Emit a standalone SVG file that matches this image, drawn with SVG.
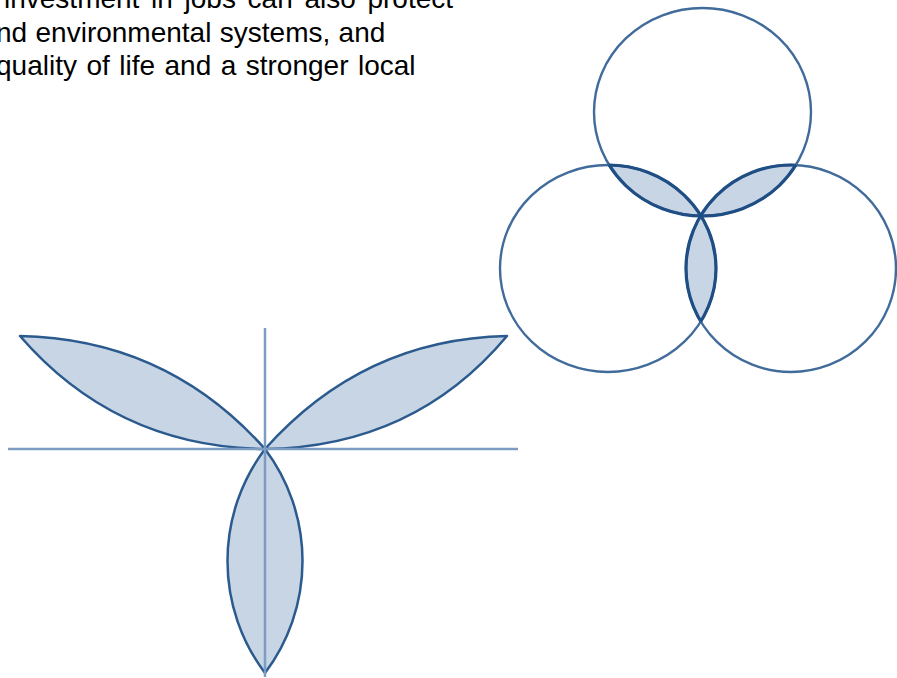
<svg xmlns="http://www.w3.org/2000/svg" width="897" height="678" viewBox="0 0 897 678">
  <style>
    .txt { font-family: "Liberation Sans", Arial, sans-serif; font-size: 28px; fill: #000; }
    .ring { fill: none; stroke: #416b9b; stroke-width: 2.4; }
    .lensfill { fill: #c8d5e4; stroke: none; }
    .lensedge { fill: none; stroke: #1f4e85; stroke-width: 3.2; }
    .petal { fill: #c8d5e4; stroke: #2b5a8e; stroke-width: 2.5; stroke-linejoin: round; }
    .axis { stroke: #7c9cc1; stroke-width: 2.5; fill: none; }
  </style>
  <defs>
    <ellipse id="eTop" cx="702.5" cy="112" rx="108.5" ry="104"/>
    <ellipse id="eLeft" cx="608" cy="268.5" rx="108" ry="103.5"/>
    <ellipse id="eRight" cx="791" cy="268.5" rx="105" ry="103.5"/>
    <clipPath id="cTop"><use href="#eTop"/></clipPath>
    <clipPath id="cLeft"><use href="#eLeft"/></clipPath>
    <clipPath id="cRight"><use href="#eRight"/></clipPath>
  </defs>

  <g id="text" class="txt">
    <text x="4" y="8" word-spacing="3.9">investment in jobs can also protect</text>
    <text x="-4" y="42" word-spacing="0.6">nd environmental systems, and</text>
    <text x="-4" y="75" word-spacing="1.7">quality of life and a stronger local</text>
  </g>

  <g id="venn">
    <g id="lens-top-left" clip-path="url(#cLeft)"><use href="#eTop" class="lensfill"/></g>
    <g id="lens-top-right" clip-path="url(#cRight)"><use href="#eTop" class="lensfill"/></g>
    <g id="lens-bottom" clip-path="url(#cRight)"><use href="#eLeft" class="lensfill"/></g>
    <g id="circle-top"><use href="#eTop" class="ring"/></g>
    <g id="circle-left"><use href="#eLeft" class="ring"/></g>
    <g id="circle-right"><use href="#eRight" class="ring"/></g>
    <g id="lens-edges">
      <g clip-path="url(#cLeft)"><use href="#eTop" class="lensedge"/></g>
      <g clip-path="url(#cTop)"><use href="#eLeft" class="lensedge"/></g>
      <g clip-path="url(#cRight)"><use href="#eTop" class="lensedge"/></g>
      <g clip-path="url(#cTop)"><use href="#eRight" class="lensedge"/></g>
      <g clip-path="url(#cRight)"><use href="#eLeft" class="lensedge"/></g>
      <g clip-path="url(#cLeft)"><use href="#eRight" class="lensedge"/></g>
    </g>
  </g>

  <g id="trefoil">
    <g id="petal-left"><path class="petal" d="M20,336 Q167,339 265,449 Q116,447 20,336 Z"/></g>
    <g id="petal-right"><path class="petal" d="M507,336 Q363,339 265,449 Q414,447 507,336 Z"/></g>
    <g id="petal-bottom"><path class="petal" d="M265,449 A186,186 0 0 0 265,673 A186,186 0 0 0 265,449 Z"/></g>
    <g id="axes">
      <line class="axis" x1="8" y1="449" x2="518" y2="449"/>
      <line class="axis" x1="265" y1="328" x2="265" y2="677"/>
    </g>
  </g>
</svg>
